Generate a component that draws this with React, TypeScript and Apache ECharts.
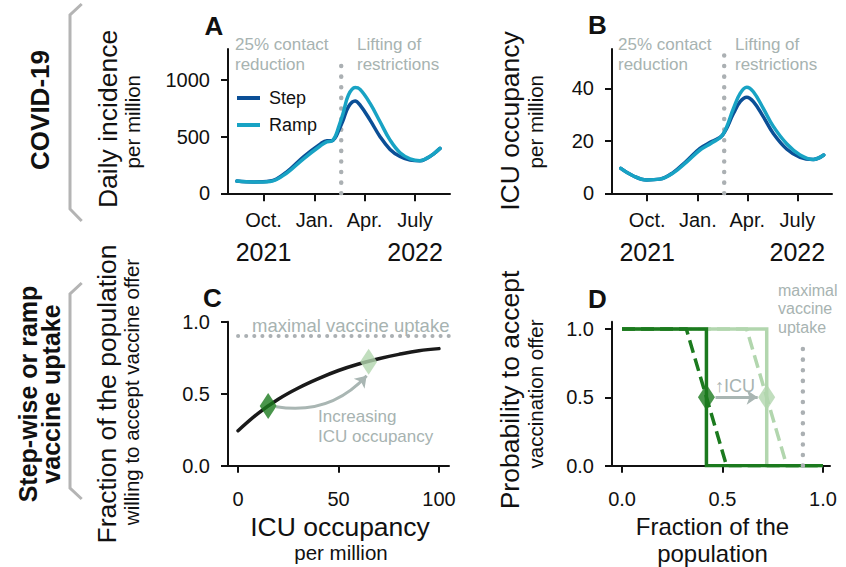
import React, { useEffect, useRef } from "react";
import * as echarts from "echarts";

const FONT = "'Liberation Sans', Arial, Helvetica, sans-serif";

// ---------- Panels A & B: time axis (days since 1 Oct 2021) ----------
const monthTickDays = [0, 92, 182, 273];
const monthTickLabels = ["Oct.", "Jan.", "Apr.", "July"];
const yearTickDays = [0, 273];
const yearTickLabels = ["2021", "2022"];
const liftingDay = 140;

// Panel A: daily incidence per million
const incidenceDays = [-48, -18, 12, 42, 72, 102, 114, 123, 129, 135, 143, 153, 165, 174, 192, 210, 228, 246, 264, 282, 294, 306, 318];
const incidenceStep = [108, 100, 108, 190, 323, 435, 465, 465, 490, 550, 640, 765, 815, 779, 647, 500, 388, 325, 293, 287, 309, 347, 397];
const incidenceRamp = [108, 100, 105, 180, 305, 418, 455, 462, 500, 580, 700, 868, 935, 918, 794, 632, 470, 358, 305, 288, 309, 347, 397];
const incidenceTicks = [0, 500, 1000];
const incidenceDottedTop = 1180;

// Panel B: ICU occupancy per million
const icuDays = [-48, -25, -1, 23, 47, 72, 96, 117, 137, 157, 169, 181, 193, 211, 229, 254, 278, 302, 321];
const icuStep = [9.5, 6.6, 5.1, 5.4, 7.9, 12.4, 17.1, 19.7, 22.2, 30.5, 34.9, 36.6, 34.9, 29.2, 22.9, 16.8, 13.7, 12.9, 14.6];
const icuRamp = [9.5, 6.6, 5.1, 5.4, 7.7, 12.0, 16.5, 19.2, 22.2, 32.4, 38.1, 40.4, 38.7, 32.4, 25.6, 18.8, 14.6, 12.9, 14.6];
const icuTicks = [0, 20, 40];
const icuDottedTop = 53;

// ---------- Panel C ----------
const occupancyX = [0, 10, 20, 30, 40, 50, 60, 70, 80, 90, 100];
const uptakeFraction = [0.243, 0.364, 0.462, 0.54, 0.605, 0.661, 0.706, 0.743, 0.773, 0.798, 0.813];
const occupancyTicks = [0, 50, 100];
const fractionTicks = [0, 0.5, 1];
const maxUptake = 0.9;
const maxUptakeLineX = [0, 105];
const lowIcuPoint = [15, 0.415];
const highIcuPoint = [65, 0.722];
const cArrowFrom = [19, 0.41];
const cArrowTo = [64, 0.625];

// ---------- Panel D ----------
const dStepLowX = [0, 0.42, 0.42, 1.0];
const dStepLowY = [1, 1, 0, 0];
const dStepHighX = [0, 0.72, 0.72, 1.0];
const dStepHighY = [1, 1, 0, 0];
const dRampLowX = [0, 0.32, 0.52, 1.0];
const dRampLowY = [1, 1, 0, 0];
const dRampHighX = [0, 0.62, 0.82, 1.0];
const dRampHighY = [1, 1, 0, 0];
const dLowPoint = [0.42, 0.5];
const dHighPoint = [0.72, 0.5];
const dArrowFrom = [0.465, 0.5];
const dArrowTo = [0.675, 0.5];
const dMaxUptakeX = 0.9;
const dMaxUptakeTop = 0.86;
const dTicks = [0, 0.5, 1];

// ---------- colours ----------
const DARK_BLUE = "#0b4f96";
const CYAN = "#18a3c4";
const DARK_GREEN = "#1b7a1e";
const LIGHT_GREEN = "#b2d6ae";
const GREY_TEXT = "#a7b3b1";
const GREY_DOT = "#abb0b3";
const GREY_ARROW = "#a9b6b3";
const BLACK = "#111";

const zip = (xs: number[], ys: number[]) => xs.map((x, i) => [x, ys[i]]);

function timeXAxis(gridIndex: number) {
  return {
    gridIndex,
    type: "value",
    min: -64,
    max: 336,
    axisLine: { show: true, onZero: false, lineStyle: { color: BLACK, width: 2 } },
    axisTick: { show: true, length: 8, customValues: monthTickDays, lineStyle: { color: BLACK, width: 2 } },
    axisLabel: {
      customValues: monthTickDays,
      interval: 0,
      margin: 15,
      formatter: (v: number) => {
        const i = monthTickDays.indexOf(v);
        const m = i >= 0 ? monthTickLabels[i] : "";
        const yi = yearTickDays.indexOf(v);
        return yi >= 0 ? `{m|${m}}\n{y|${yearTickLabels[yi]}}` : `{m|${m}}`;
      },
      rich: {
        m: { fontSize: 20, lineHeight: 24, fontFamily: FONT, color: BLACK },
        y: { fontSize: 25, lineHeight: 40, fontFamily: FONT, color: BLACK },
      },
    },
    splitLine: { show: false },
  };
}

function valueAxis(gridIndex: number, min: number, max: number, ticks: number[], fmt: (v: number) => string, margin: number) {
  return {
    gridIndex,
    type: "value",
    min,
    max,
    axisLine: { show: true, onZero: false, lineStyle: { color: BLACK, width: 2 } },
    axisTick: { show: true, length: 7, customValues: ticks, lineStyle: { color: BLACK, width: 2 } },
    axisLabel: {
      customValues: ticks,
      interval: 0,
      margin,
      formatter: fmt,
      fontSize: 20,
      lineHeight: 24,
      fontFamily: FONT,
      color: BLACK,
    },
    splitLine: { show: false },
  };
}

const dotted = (color: string, width: number, gap: number) => ({
  color,
  width,
  type: [0.1, gap],
  cap: "round",
});

function txt(x: number, y: number, text: string, opts: any = {}) {
  return {
    type: "text",
    x,
    y,
    rotation: opts.rotation || 0,
    silent: true,
    style: {
      text,
      fill: opts.color || BLACK,
      fontSize: opts.size || 20,
      fontWeight: opts.bold ? "bold" : "normal",
      fontFamily: FONT,
      align: opts.align || "center",
      verticalAlign: opts.valign || "middle",
      lineHeight: opts.lineHeight,
    },
  };
}

export default function App() {
  const ref = useRef<HTMLDivElement>(null);

  useEffect(() => {
    if (!ref.current) return;
    const chart = echarts.init(ref.current, undefined, { renderer: "svg" });

    const grids = [
      { left: 228, top: 49, width: 222, height: 144.3 },
      { left: 612, top: 49, width: 220, height: 144.3 },
      { left: 228, top: 321.7, width: 221, height: 144 },
      { left: 612, top: 321.7, width: 218, height: 144 },
    ].map((g) => ({ ...g, containLabel: false, outerBoundsMode: "none" }));

    const f1 = (v: number) => v.toFixed(1);
    const f0 = (v: number) => String(v);

    const annot = { size: 17, color: GREY_TEXT, align: "left", valign: "top", lineHeight: 19.5 };

    const option: any = {
      animation: false,
      backgroundColor: "#fff",
      grid: grids,
      legend: {
        show: true,
        data: ["Step", "Ramp"],
        orient: "vertical",
        left: 232,
        top: 84,
        itemWidth: 23,
        itemHeight: 4,
        itemGap: 9,
        icon: "rect",
        selectedMode: false,
        textStyle: { fontSize: 18, fontFamily: FONT, color: BLACK, padding: [0, 0, 0, 4] },
      },
      xAxis: [
        timeXAxis(0),
        timeXAxis(1),
        valueAxis(2, -5, 105, occupancyTicks, f0, 21),
        valueAxis(3, -0.05, 1.035, dTicks, f1, 21),
      ],
      yAxis: [
        valueAxis(0, 0, 1275, incidenceTicks, f0, 18),
        valueAxis(1, 0, 55, icuTicks, f0, 18),
        valueAxis(2, 0, 1, fractionTicks, f1, 18),
        valueAxis(3, 0, 1.053, dTicks, f1, 18),
      ],
      series: [
        // Panel A
        {
          name: "Step", type: "line", xAxisIndex: 0, yAxisIndex: 0, smooth: 0.4, showSymbol: false,
          data: zip(incidenceDays, incidenceStep), color: DARK_BLUE,
          lineStyle: { color: DARK_BLUE, width: 3.5, cap: "round" },
        },
        {
          name: "Ramp", type: "line", xAxisIndex: 0, yAxisIndex: 0, smooth: 0.4, showSymbol: false,
          data: zip(incidenceDays, incidenceRamp), color: CYAN,
          lineStyle: { color: CYAN, width: 3.5, cap: "round" },
        },
        {
          type: "line", xAxisIndex: 0, yAxisIndex: 0, showSymbol: false, silent: true, z: 1,
          data: [[liftingDay, 0], [liftingDay, incidenceDottedTop]],
          lineStyle: dotted(GREY_DOT, 4.5, 10.5),
        },
        // Panel B
        {
          name: "Step", type: "line", xAxisIndex: 1, yAxisIndex: 1, smooth: 0.4, showSymbol: false,
          data: zip(icuDays, icuStep), color: DARK_BLUE,
          lineStyle: { color: DARK_BLUE, width: 3.5, cap: "round" },
        },
        {
          name: "Ramp", type: "line", xAxisIndex: 1, yAxisIndex: 1, smooth: 0.4, showSymbol: false,
          data: zip(icuDays, icuRamp), color: CYAN,
          lineStyle: { color: CYAN, width: 3.5, cap: "round" },
        },
        {
          type: "line", xAxisIndex: 1, yAxisIndex: 1, showSymbol: false, silent: true, z: 1,
          data: [[liftingDay, 0], [liftingDay, icuDottedTop]],
          lineStyle: dotted(GREY_DOT, 4.5, 10.5),
        },
        // Panel C
        {
          type: "line", xAxisIndex: 2, yAxisIndex: 2, showSymbol: false, silent: true,
          data: maxUptakeLineX.map((x) => [x, maxUptake]),
          lineStyle: dotted(GREY_DOT, 4, 8),
        },
        {
          type: "line", xAxisIndex: 2, yAxisIndex: 2, smooth: 0.4, showSymbol: false, silent: true,
          data: zip(occupancyX, uptakeFraction),
          lineStyle: { color: "#1a1a1a", width: 3.5, cap: "round" },
        },
        {
          type: "lines", coordinateSystem: "cartesian2d", xAxisIndex: 2, yAxisIndex: 2, silent: true,
          data: [{ coords: [cArrowFrom, cArrowTo] }],
          symbol: ["none", "arrow"], symbolSize: 11,
          lineStyle: { color: GREY_ARROW, width: 3, curveness: -0.27, opacity: 1 },
        },
        {
          type: "scatter", xAxisIndex: 2, yAxisIndex: 2, silent: true, symbol: "diamond", symbolSize: [17, 26],
          data: [
            { value: lowIcuPoint, itemStyle: { color: DARK_GREEN } },
            { value: highIcuPoint, itemStyle: { color: LIGHT_GREEN } },
          ],
          z: 5,
        },
        // Panel D
        {
          type: "line", xAxisIndex: 3, yAxisIndex: 3, showSymbol: false, silent: true,
          data: zip(dRampHighX, dRampHighY),
          lineStyle: { color: LIGHT_GREEN, width: 3.5, type: [13, 6], join: "miter" },
        },
        {
          type: "line", xAxisIndex: 3, yAxisIndex: 3, showSymbol: false, silent: true,
          data: zip(dStepHighX, dStepHighY),
          lineStyle: { color: LIGHT_GREEN, width: 3.5, join: "miter" },
        },
        {
          type: "line", xAxisIndex: 3, yAxisIndex: 3, showSymbol: false, silent: true,
          data: zip(dRampLowX, dRampLowY),
          lineStyle: { color: DARK_GREEN, width: 3.5, type: [13, 6], join: "miter" },
        },
        {
          type: "line", xAxisIndex: 3, yAxisIndex: 3, showSymbol: false, silent: true,
          data: zip(dStepLowX, dStepLowY),
          lineStyle: { color: DARK_GREEN, width: 3.5, join: "miter" },
        },
        {
          type: "line", xAxisIndex: 3, yAxisIndex: 3, showSymbol: false, silent: true,
          data: [[dMaxUptakeX, 0], [dMaxUptakeX, dMaxUptakeTop]],
          lineStyle: dotted(GREY_DOT, 4.5, 10.5),
        },
        {
          type: "lines", coordinateSystem: "cartesian2d", xAxisIndex: 3, yAxisIndex: 3, silent: true,
          data: [{ coords: [dArrowFrom, dArrowTo] }],
          symbol: ["none", "arrow"], symbolSize: 11,
          lineStyle: { color: GREY_ARROW, width: 3, curveness: 0, opacity: 1 },
        },
        {
          type: "scatter", xAxisIndex: 3, yAxisIndex: 3, silent: true, symbol: "diamond", symbolSize: [17, 26],
          data: [
            { value: dLowPoint, itemStyle: { color: DARK_GREEN } },
            { value: dHighPoint, itemStyle: { color: LIGHT_GREEN } },
          ],
          z: 5,
        },
      ],
      graphic: [
        // panel letters
        txt(214, 26, "A", { bold: true, size: 26 }),
        txt(597.5, 25, "B", { bold: true, size: 26 }),
        txt(212.5, 297.5, "C", { bold: true, size: 26 }),
        txt(597.5, 299, "D", { bold: true, size: 26 }),
        // row headings and brackets
        txt(40, 110, "COVID-19", { bold: true, size: 26, rotation: Math.PI / 2 }),
        txt(39, 394, "Step-wise or ramp\nvaccine uptake", { bold: true, size: 25, rotation: Math.PI / 2, lineHeight: 23 }),
        {
          type: "polyline", silent: true,
          shape: { points: [[81.7, 4], [70, 15], [70, 209], [81.7, 221]] },
          style: { stroke: "#b4b4b4", lineWidth: 3, fill: null },
        },
        {
          type: "polyline", silent: true,
          shape: { points: [[81.7, 283], [70, 294], [70, 488], [81.7, 499]] },
          style: { stroke: "#b4b4b4", lineWidth: 3, fill: null },
        },
        // y-axis titles
        txt(107.5, 119, "Daily incidence", { size: 26.5, rotation: Math.PI / 2 }),
        txt(132, 121.7, "per million", { size: 20.5, rotation: Math.PI / 2 }),
        txt(510, 121, "ICU occupancy", { size: 26.5, rotation: Math.PI / 2 }),
        txt(535, 121.7, "per million", { size: 20.5, rotation: Math.PI / 2 }),
        txt(107, 394, "Fraction of the population", { size: 26.5, rotation: Math.PI / 2 }),
        txt(131, 392, "willing to accept vaccine offer", { size: 20.5, rotation: Math.PI / 2 }),
        txt(510, 390, "Probability to accept", { size: 26.5, rotation: Math.PI / 2 }),
        txt(535, 394, "vaccination offer", { size: 20.5, rotation: Math.PI / 2 }),
        // x-axis titles
        txt(340, 527, "ICU occupancy", { size: 26.5 }),
        txt(341, 552, "per million", { size: 20.5 }),
        txt(712.5, 540, "Fraction of the\npopulation", { size: 24, lineHeight: 27.6 }),
        // annotations A
        txt(235, 35, "25% contact\nreduction", annot),
        txt(357, 35, "Lifting of\nrestrictions", annot),
        // annotations B
        txt(618, 35, "25% contact\nreduction", annot),
        txt(735, 35, "Lifting of\nrestrictions", annot),
        // annotations C
        txt(252, 325, "maximal vaccine uptake", { size: 18.5, color: GREY_TEXT, align: "left" }),
        txt(318, 407, "Increasing\nICU occupancy", annot),
        // annotations D
        txt(715, 386, "\u2191ICU", { size: 18, color: GREY_TEXT, align: "left" }),
        txt(778, 281, "maximal\nvaccine\nuptake", { size: 16, color: GREY_TEXT, align: "left", valign: "top", lineHeight: 18.4 }),
      ],
    };

    chart.setOption(option);
    return () => chart.dispose();
  }, []);

  return (
    <div
      ref={ref}
      style={{ position: "fixed", left: 0, top: 0, width: 846, height: 567, background: "#fff" }}
    />
  );
}
